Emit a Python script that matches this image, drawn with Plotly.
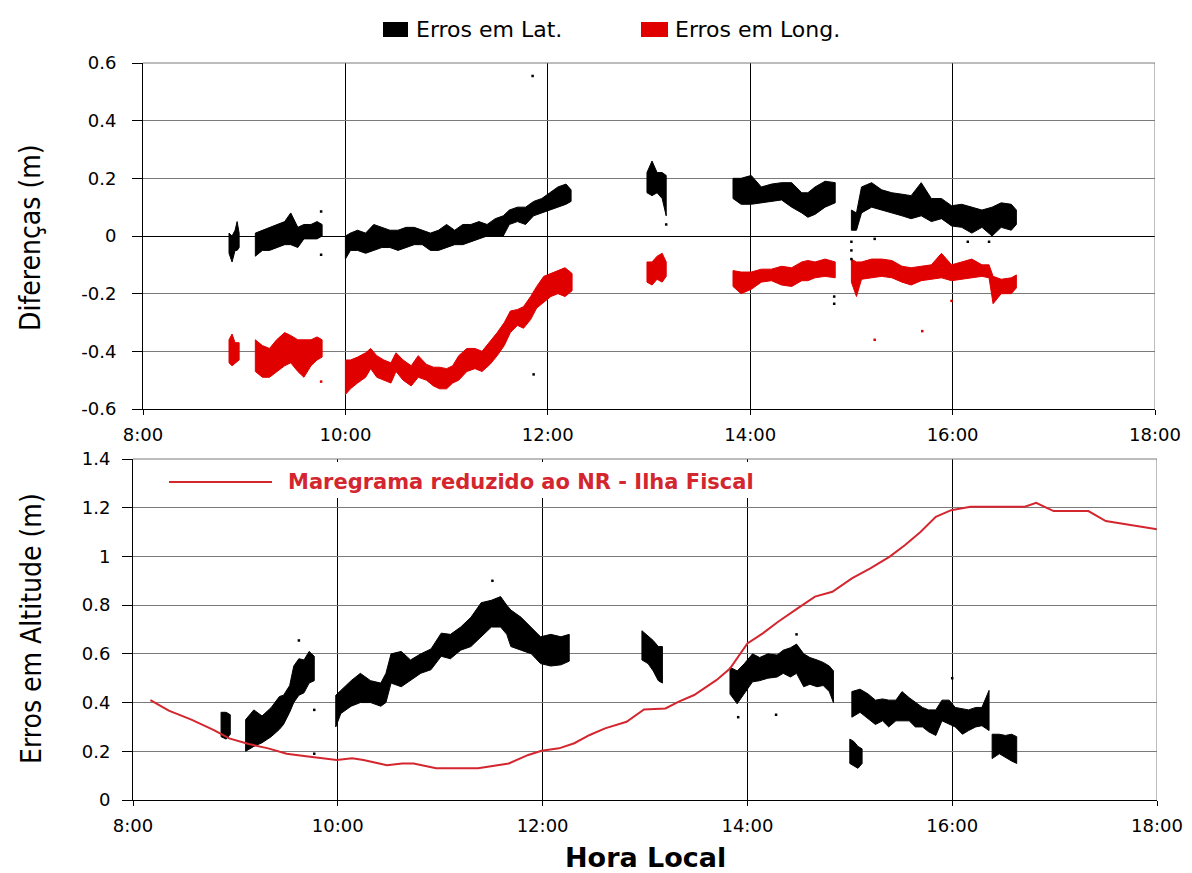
import plotly.graph_objects as go

W, H = 1192, 873

# ---------------------------------------------------------------------------
# Horizontal position differences (m): envelope (min / max) of the point cloud
# per epoch, local time in decimal hours.  None separates observation blocks.
# ---------------------------------------------------------------------------
LAT_T = [8.85, 8.88, 8.91, 8.93, 8.95, None,
         9.11, 9.18, 9.25, 9.32, 9.40, 9.46, 9.53, 9.59, 9.66, 9.72, 9.77, None,
         10.00, 10.05, 10.12, 10.20, 10.28, 10.36, 10.44, 10.52, 10.60, 10.68, 10.76, 10.84,
         10.92, 11.00, 11.08, 11.16, 11.24, 11.32, 11.40, 11.48, 11.56, 11.62, 11.70, 11.78,
         11.86, 11.94, 12.02, 12.10, 12.18, 12.23, None,
         12.98, 13.03, 13.08, 13.13, 13.17, None,
         13.83, 13.91, 14.01, 14.11, 14.21, 14.31, 14.41, 14.51, 14.57, 14.64, 14.74, 14.84, None,
         15.00, 15.05, 15.10, 15.20, 15.30, 15.40, 15.50, 15.59, 15.69, 15.79, 15.89, 15.99,
         16.09, 16.19, 16.29, 16.39, 16.48, 16.58, 16.63]
LAT_LO = [-0.06, -0.09, -0.05, -0.05, -0.04, None,
          -0.07, -0.05, -0.05, -0.04, -0.03, -0.03, -0.04, -0.01, -0.01, -0.01, 0.00, None,
          -0.08, -0.05, -0.05, -0.06, -0.05, -0.04, -0.04, -0.05, -0.04, -0.03, -0.03, -0.05,
          -0.05, -0.04, -0.03, -0.03, -0.02, -0.01, 0.00, 0.00, 0.00, 0.04, 0.05, 0.04,
          0.07, 0.08, 0.09, 0.10, 0.11, 0.12, None,
          0.15, 0.14, 0.15, 0.13, 0.07, None,
          0.13, 0.11, 0.11, 0.115, 0.12, 0.125, 0.10, 0.08, 0.065, 0.075, 0.10, 0.115, None,
          0.02, 0.02, 0.08, 0.10, 0.09, 0.08, 0.07, 0.06, 0.07, 0.05, 0.06, 0.035,
          0.03, 0.01, 0.03, 0.00, 0.03, 0.02, 0.04]
LAT_HI = [0.01, 0.00, 0.02, 0.05, 0.01, None,
          0.01, 0.02, 0.03, 0.04, 0.05, 0.08, 0.03, 0.04, 0.04, 0.05, 0.04, None,
          0.00, 0.01, 0.02, 0.01, 0.04, 0.03, 0.02, 0.02, 0.03, 0.03, 0.02, 0.01,
          0.02, 0.04, 0.02, 0.04, 0.04, 0.05, 0.04, 0.06, 0.07, 0.09, 0.10, 0.10,
          0.12, 0.13, 0.15, 0.17, 0.18, 0.16, None,
          0.22, 0.26, 0.22, 0.22, 0.21, None,
          0.20, 0.20, 0.21, 0.17, 0.18, 0.185, 0.185, 0.15, 0.15, 0.17, 0.19, 0.185, None,
          0.09, 0.08, 0.17, 0.185, 0.16, 0.15, 0.145, 0.14, 0.185, 0.13, 0.13, 0.105,
          0.11, 0.10, 0.09, 0.10, 0.115, 0.11, 0.09]

LON_T = [8.85, 8.88, 8.91, 8.95, None,
         9.11, 9.18, 9.25, 9.32, 9.40, 9.46, 9.53, 9.59, 9.66, 9.72, 9.77, None,
         10.00, 10.05, 10.12, 10.20, 10.25, 10.31, 10.38, 10.45, 10.50, 10.57, 10.65, 10.72,
         10.80, 10.87, 10.93, 11.00, 11.06, 11.12, 11.20, 11.28, 11.35, 11.43, 11.50, 11.57,
         11.63, 11.70, 11.76, 11.83, 11.89, 11.96, 12.03, 12.10, 12.17, 12.24, None,
         12.98, 13.03, 13.08, 13.13, 13.17, None,
         13.83, 13.91, 14.01, 14.11, 14.21, 14.31, 14.41, 14.51, 14.57, 14.64, 14.74, 14.84, None,
         15.00, 15.05, 15.10, 15.20, 15.30, 15.40, 15.50, 15.59, 15.69, 15.79, 15.89, 15.99,
         16.09, 16.19, 16.29, 16.36, 16.40, 16.48, 16.58, 16.63]
LON_LO = [-0.44, -0.45, -0.44, -0.43, None,
          -0.47, -0.49, -0.49, -0.47, -0.45, -0.44, -0.47, -0.49, -0.45, -0.43, -0.42, None,
          -0.55, -0.53, -0.51, -0.49, -0.46, -0.49, -0.50, -0.51, -0.47, -0.50, -0.52, -0.49,
          -0.50, -0.52, -0.53, -0.53, -0.51, -0.50, -0.47, -0.46, -0.47, -0.445, -0.415, -0.38,
          -0.335, -0.31, -0.32, -0.29, -0.25, -0.23, -0.21, -0.20, -0.21, -0.19, None,
          -0.16, -0.17, -0.15, -0.16, -0.14, None,
          -0.175, -0.20, -0.185, -0.16, -0.155, -0.17, -0.175, -0.155, -0.155, -0.145, -0.14, -0.145, None,
          -0.16, -0.21, -0.15, -0.145, -0.14, -0.145, -0.16, -0.17, -0.155, -0.15, -0.145, -0.155,
          -0.15, -0.145, -0.14, -0.145, -0.235, -0.20, -0.20, -0.18]
LON_HI = [-0.36, -0.34, -0.37, -0.37, None,
          -0.36, -0.38, -0.39, -0.36, -0.335, -0.345, -0.36, -0.36, -0.36, -0.35, -0.36, None,
          -0.43, -0.43, -0.42, -0.405, -0.39, -0.415, -0.43, -0.44, -0.405, -0.43, -0.45, -0.415,
          -0.445, -0.455, -0.455, -0.46, -0.45, -0.415, -0.39, -0.39, -0.40, -0.365, -0.335, -0.30,
          -0.26, -0.255, -0.245, -0.21, -0.175, -0.14, -0.13, -0.12, -0.11, -0.13, None,
          -0.09, -0.09, -0.07, -0.06, -0.09, None,
          -0.12, -0.125, -0.125, -0.115, -0.115, -0.105, -0.11, -0.09, -0.085, -0.09, -0.08, -0.09, None,
          -0.08, -0.09, -0.09, -0.08, -0.08, -0.085, -0.105, -0.11, -0.105, -0.10, -0.06, -0.10,
          -0.09, -0.08, -0.10, -0.10, -0.14, -0.15, -0.145, -0.135]

# isolated epochs outside the main clouds
LAT_OUT_T = [9.76, 9.76, 11.85, 11.86, 13.17, 15.00, 15.00, 15.00, 15.23, 16.15, 16.36, 14.83, 14.83]
LAT_OUT_V = [0.085, -0.065, 0.555, -0.48, 0.04, -0.02, -0.05, -0.08, -0.01, -0.02, -0.02, -0.21, -0.235]
LON_OUT_T = [9.76, 15.23, 15.70, 15.99]
LON_OUT_V = [-0.505, -0.36, -0.33, -0.225]

# ---------------------------------------------------------------------------
# Height errors (m)
# ---------------------------------------------------------------------------
ALT_T = [8.86, 8.91, 8.95, None,
         9.10, 9.18, 9.26, 9.35, 9.43, 9.47, 9.53, 9.57, 9.62, 9.67, 9.72, 9.77, None,
         9.98, 10.03, 10.13, 10.22, 10.32, 10.42, 10.47, 10.52, 10.62, 10.71, 10.81, 10.91,
         11.01, 11.10, 11.20, 11.30, 11.40, 11.50, 11.59, 11.65, 11.69, 11.79, 11.89, 11.98,
         12.08, 12.18, 12.26, None,
         12.97, 13.03, 13.08, 13.13, 13.17, None,
         13.83, 13.90, 13.97, 14.05, 14.12, 14.20, 14.29, 14.35, 14.42, 14.48, 14.55, 14.61,
         14.68, 14.74, 14.80, 14.84, None,
         15.00, 15.04, 15.08, 15.12, None,
         15.02, 15.10, 15.18, 15.25, 15.32, 15.38, 15.45, 15.51, 15.58, 15.64, 15.71, 15.77,
         15.84, 15.90, 15.97, 16.03, 16.10, 16.16, 16.23, 16.29, 16.36, None,
         16.39, 16.46, 16.52, 16.58, 16.63]
ALT_LO = [0.26, 0.25, 0.27, None,
          0.20, 0.22, 0.235, 0.26, 0.29, 0.31, 0.36, 0.40, 0.43, 0.44, 0.48, 0.49, None,
          0.30, 0.355, 0.385, 0.40, 0.40, 0.385, 0.40, 0.48, 0.465, 0.49, 0.52, 0.535,
          0.59, 0.58, 0.615, 0.63, 0.67, 0.71, 0.71, 0.68, 0.63, 0.615, 0.60, 0.56,
          0.55, 0.555, 0.57, None,
          0.575, 0.56, 0.53, 0.49, 0.48, None,
          0.435, 0.395, 0.435, 0.485, 0.49, 0.50, 0.505, 0.52, 0.505, 0.52, 0.465, 0.475,
          0.465, 0.47, 0.445, 0.40, None,
          0.15, 0.14, 0.13, 0.15, None,
          0.34, 0.36, 0.335, 0.31, 0.325, 0.30, 0.325, 0.325, 0.325, 0.30, 0.30, 0.28,
          0.265, 0.325, 0.31, 0.30, 0.27, 0.285, 0.30, 0.305, 0.285, None,
          0.17, 0.19, 0.175, 0.16, 0.15]
ALT_HI = [0.36, 0.36, 0.35, None,
          0.33, 0.37, 0.345, 0.38, 0.425, 0.43, 0.47, 0.55, 0.58, 0.575, 0.61, 0.59, None,
          0.43, 0.45, 0.49, 0.52, 0.49, 0.48, 0.52, 0.60, 0.61, 0.575, 0.60, 0.62,
          0.685, 0.68, 0.71, 0.75, 0.81, 0.82, 0.835, 0.80, 0.78, 0.75, 0.71, 0.67,
          0.68, 0.67, 0.68, None,
          0.695, 0.675, 0.655, 0.63, 0.63, None,
          0.545, 0.53, 0.56, 0.60, 0.585, 0.60, 0.595, 0.615, 0.625, 0.64, 0.60, 0.585,
          0.575, 0.565, 0.55, 0.53, None,
          0.25, 0.24, 0.22, 0.21, None,
          0.445, 0.455, 0.435, 0.41, 0.415, 0.41, 0.41, 0.445, 0.42, 0.40, 0.38, 0.37,
          0.37, 0.41, 0.41, 0.38, 0.375, 0.37, 0.38, 0.38, 0.45, None,
          0.27, 0.27, 0.265, 0.27, 0.26]

ALT_OUT_T = [9.62, 9.77, 9.77, 11.51, 13.91, 14.28, 14.48, 16.00]
ALT_OUT_V = [0.655, 0.37, 0.19, 0.90, 0.34, 0.35, 0.68, 0.50]

# Tide gauge record reduced to chart datum (NR) - Ilha Fiscal
TIDE_T = [8.17, 8.35, 8.57, 8.79, 8.94, 9.13, 9.32, 9.50, 9.69, 9.88, 9.99, 10.14, 10.25,
          10.48, 10.63, 10.74, 10.96, 11.37, 11.67, 11.86, 11.99, 12.16, 12.31, 12.46,
          12.61, 12.82, 12.99, 13.20, 13.33, 13.48, 13.70, 13.83, 14.00, 14.15, 14.30,
          14.49, 14.66, 14.83, 15.02, 15.20, 15.39, 15.54, 15.69, 15.84, 15.99, 16.18,
          16.71, 16.82, 16.99, 17.33, 17.50, 18.00]
TIDE_V = [0.41, 0.367, 0.33, 0.287, 0.253, 0.23, 0.212, 0.19, 0.18, 0.17, 0.164, 0.171, 0.164,
          0.143, 0.15, 0.15, 0.13, 0.13, 0.15, 0.185, 0.202, 0.212, 0.233, 0.267,
          0.294, 0.321, 0.372, 0.376, 0.404, 0.431, 0.493, 0.54, 0.643, 0.684, 0.732,
          0.787, 0.835, 0.855, 0.91, 0.951, 0.999, 1.047, 1.10, 1.163, 1.19, 1.204,
          1.204, 1.22, 1.186, 1.186, 1.145, 1.112]

HOUR_TICKS = [8, 10, 12, 14, 16, 18]
HOUR_LABELS = ["8:00", "10:00", "12:00", "14:00", "16:00", "18:00"]
TOP_TICKS = [-0.6, -0.4, -0.2, 0, 0.2, 0.4, 0.6]
TOP_LABELS = ["-0.6", "-0.4", "-0.2", "0", "0.2", "0.4", "0.6"]
BOT_TICKS = [0, 0.2, 0.4, 0.6, 0.8, 1.0, 1.2, 1.4]
BOT_LABELS = ["0", "0.2", "0.4", "0.6", "0.8", "1", "1.2", "1.4"]

BLACK = "#000000"
RED = "#e00000"
TIDE_RED = "#d3262e"
GRID = "#7a7a7a"
FONT = "DejaVu Sans"


def band(t, lo, hi):
    """Closed polygons (one per observation block) between lower and upper envelopes."""
    xs, ys = [], []
    block = []
    for a, b, c in list(zip(t, lo, hi)) + [(None, None, None)]:
        if a is None:
            if block:
                ts = [p[0] for p in block]
                ls = [p[1] for p in block]
                hs = [p[2] for p in block]
                xs += ts + ts[::-1] + [ts[0], None]
                ys += hs + ls[::-1] + [hs[0], None]
            block = []
        else:
            block.append((a, b, c))
    return xs, ys


def px(x):
    return x / W


def py(y):
    return 1 - y / H


fig = go.Figure()

bx, by = band(LAT_T, LAT_LO, LAT_HI)
fig.add_trace(go.Scatter(x=bx, y=by, mode="lines", fill="toself", fillcolor=BLACK,
                         line=dict(color=BLACK, width=1), name="Erros em Lat.",
                         xaxis="x", yaxis="y", showlegend=False, hoverinfo="skip"))
bx, by = band(LON_T, LON_LO, LON_HI)
fig.add_trace(go.Scatter(x=bx, y=by, mode="lines", fill="toself", fillcolor=RED,
                         line=dict(color=RED, width=1), name="Erros em Long.",
                         xaxis="x", yaxis="y", showlegend=False, hoverinfo="skip"))
fig.add_trace(go.Scatter(x=LAT_OUT_T, y=LAT_OUT_V, mode="markers",
                         marker=dict(color=BLACK, size=2.5, symbol="square"),
                         xaxis="x", yaxis="y", showlegend=False))
fig.add_trace(go.Scatter(x=LON_OUT_T, y=LON_OUT_V, mode="markers",
                         marker=dict(color=RED, size=2.5, symbol="square"),
                         xaxis="x", yaxis="y", showlegend=False))

bx, by = band(ALT_T, ALT_LO, ALT_HI)
fig.add_trace(go.Scatter(x=bx, y=by, mode="lines", fill="toself", fillcolor=BLACK,
                         line=dict(color=BLACK, width=1), name="Erros em Altitude",
                         xaxis="x2", yaxis="y2", showlegend=False, hoverinfo="skip"))
fig.add_trace(go.Scatter(x=ALT_OUT_T, y=ALT_OUT_V, mode="markers",
                         marker=dict(color=BLACK, size=2.5, symbol="square"),
                         xaxis="x2", yaxis="y2", showlegend=False))
fig.add_trace(go.Scatter(x=TIDE_T, y=TIDE_V, mode="lines",
                         line=dict(color=TIDE_RED, width=2),
                         name="Maregrama reduzido ao NR - Ilha Fiscal",
                         xaxis="x2", yaxis="y2", showlegend=False))

tickfont = dict(family=FONT, size=18, color=BLACK)
xcommon = dict(range=[8, 18], tickvals=HOUR_TICKS, ticktext=HOUR_LABELS,
               showgrid=True, gridcolor=BLACK, gridwidth=1,
               zeroline=False, showline=True, linecolor=BLACK, linewidth=1,
               ticks="outside", ticklen=5, tickcolor=BLACK, tickfont=tickfont,
               ticklabelstandoff=4, automargin=False)
ycommon = dict(showgrid=True, gridcolor=GRID, gridwidth=1, showline=True, linecolor=BLACK,
               linewidth=1, ticks="outside", ticklen=10, tickcolor=BLACK,
               tickfont=tickfont, automargin=False)

fig.update_layout(
    width=W, height=H,
    margin=dict(l=0, r=0, t=0, b=0),
    paper_bgcolor="white", plot_bgcolor="white",
    xaxis=dict(domain=[px(143), px(1155)], anchor="y", **xcommon),
    yaxis=dict(domain=[py(409), py(63)], anchor="x", range=[-0.6, 0.6],
               tickvals=TOP_TICKS, ticktext=TOP_LABELS, zeroline=True,
               zerolinecolor=BLACK, zerolinewidth=1, ticklabelstandoff=12, **ycommon),
    xaxis2=dict(domain=[px(133), px(1157)], anchor="y2", **xcommon),
    yaxis2=dict(domain=[py(800), py(459)], anchor="x2", range=[0, 1.4],
                tickvals=BOT_TICKS, ticktext=BOT_LABELS, zeroline=False,
                ticklabelstandoff=8, **ycommon),
)

shapes = []
# grey frame on the top and right sides of each panel
for xr, yr in (("x", "y"), ("x2", "y2")):
    shapes.append(dict(type="line", xref=xr, yref=f"{yr} domain", x0=18, x1=18,
                       y0=0, y1=1, layer="above", line=dict(color=GRID, width=1)))
    shapes.append(dict(type="line", xref=f"{xr} domain", yref=f"{yr} domain", x0=0, x1=1,
                       y0=1, y1=1, layer="above", line=dict(color=GRID, width=1)))
# white key box of the tide curve
shapes.append(dict(type="rect", xref="x2", yref="y2", x0=8.04, x1=15.29, y0=1.24, y1=1.3875,
                   layer="above", fillcolor="white", line=dict(width=0)))
# key swatches
shapes.append(dict(type="rect", xref="paper", yref="paper", x0=px(383), x1=px(408),
                   y0=py(37), y1=py(22), fillcolor=BLACK, line=dict(width=0)))
shapes.append(dict(type="rect", xref="paper", yref="paper", x0=px(641), x1=px(668),
                   y0=py(37), y1=py(22), fillcolor=RED, line=dict(width=0)))
shapes.append(dict(type="line", xref="paper", yref="paper", x0=px(169), x1=px(272),
                   y0=py(482), y1=py(482), line=dict(color=TIDE_RED, width=2)))
fig.update_layout(shapes=shapes)

annotations = [
    dict(text="Erros em Lat.", x=px(414), y=py(30), xanchor="left", yanchor="middle",
         font=dict(family=FONT, size=22, color=BLACK)),
    dict(text="Erros em Long.", x=px(673), y=py(30), xanchor="left", yanchor="middle",
         font=dict(family=FONT, size=22, color=BLACK)),
    dict(text="Diferenças (m)", x=px(31), y=py(238), textangle=-90, xanchor="center",
         yanchor="middle",
         font=dict(family="DejaVu Sans Condensed, DejaVu Sans", size=28, color=BLACK)),
    dict(text="Erros em Altitude (m)", x=px(31), y=py(629), textangle=-90,
         xanchor="center", yanchor="middle",
         font=dict(family="DejaVu Sans Condensed, DejaVu Sans", size=28, color=BLACK)),
    dict(text="<b>Hora Local</b>", x=px(645), y=py(857), xanchor="center", yanchor="middle",
         font=dict(family=FONT, size=27, color=BLACK)),
    dict(text="<b>Maregrama reduzido ao NR - Ilha Fiscal</b>", x=px(286), y=py(482),
         xanchor="left", yanchor="middle", font=dict(family=FONT, size=21, color=TIDE_RED)),
]
for a in annotations:
    a.update(xref="paper", yref="paper", showarrow=False)
fig.update_layout(annotations=annotations)

fig.write_html("out.html")
